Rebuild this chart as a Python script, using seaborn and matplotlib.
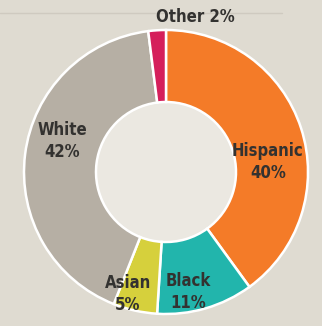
import matplotlib
matplotlib.use("Agg")
import matplotlib.pyplot as plt
import seaborn as sns

# data
groups = ["Hispanic", "Black", "Asian", "White", "Other"]
shares = [40, 11, 5, 42, 2]
colors = ["#f47b28", "#22b5ac", "#d6d03c", "#b6afa4", "#d51f5b"]

sns.set_theme(style="white")
plt.rcParams["font.family"] = ["DejaVu Sans"]

bg = "#dfdbd1"
fig = plt.figure(figsize=(3.22, 3.26), dpi=100, facecolor=bg)
ax = fig.add_axes([0, 0, 1, 1])
ax.set_facecolor(bg)

cx, cy, r_out, r_in = 166, 154, 142, 70

ax.pie(shares, colors=colors, startangle=90, counterclock=False,
       center=(cx, cy), radius=r_out,
       wedgeprops=dict(width=r_out - r_in, edgecolor="white", linewidth=1.8))
ax.add_patch(plt.Circle((cx, cy), r_in - 1, color="#ebe8e1", zorder=0))

# thin rule at the top
ax.plot([0, 282], [313, 313], color="#cfcac0", lw=1)

ax.set_xlim(0, 322)
ax.set_ylim(0, 326)
ax.set_aspect("auto")
ax.axis("off")

txt = dict(color="#333230", fontsize=12, fontweight="bold", fontstretch="condensed",
           ha="center", va="center", linespacing=1.3)
ax.text(268, 326 - 162, "Hispanic\n40%", **txt)
ax.text(62, 326 - 141, "White\n42%", **txt)
ax.text(128, 326 - 294, "Asian\n5%", **txt)
ax.text(188, 326 - 292, "Black\n11%", **txt)
ax.text(195, 326 - 17, "Other 2%", **txt)

fig.savefig("out.png", dpi=100, facecolor=bg)
